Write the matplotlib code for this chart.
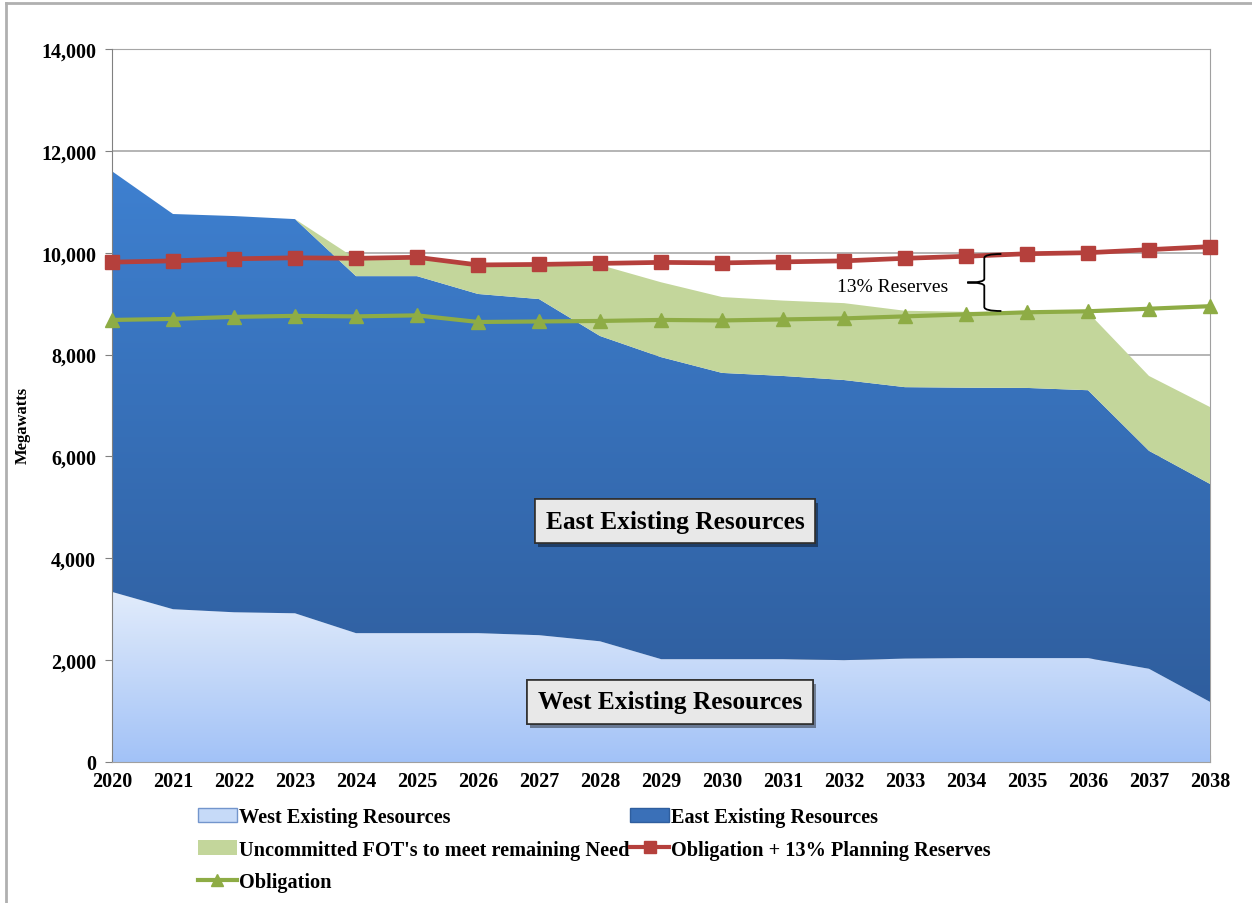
import numpy as np
import matplotlib
matplotlib.use('Agg')
import matplotlib.pyplot as plt
from matplotlib.colors import LinearSegmentedColormap
from matplotlib.path import Path
from matplotlib.patches import PathPatch, Patch
from matplotlib.lines import Line2D
import matplotlib.patheffects as pe

# Dados (MW)
anos = list(range(2020, 2039))
west = [3340, 3000, 2940, 2920, 2530, 2530, 2530, 2490, 2370, 2020,
        2020, 2020, 2000, 2030, 2040, 2040, 2040, 1830, 1180]
east = [8260, 7760, 7780, 7740, 7010, 7010, 6660, 6600, 5995, 5930,
        5620, 5560, 5500, 5330, 5310, 5305, 5260, 4280, 4280]
fot = [0, 0, 0, 0, 340, 360, 590, 690, 1395, 1470,
       1490, 1480, 1510, 1500, 1490, 1485, 1530, 1470, 1510]
obrig_reserva = [9815, 9840, 9880, 9900, 9890, 9910, 9760, 9770, 9790, 9810,
                 9800, 9820, 9840, 9890, 9930, 9980, 10000, 10060, 10120]
obrigacao = [8680, 8700, 8740, 8760, 8750, 8770, 8640, 8650, 8660, 8680,
             8670, 8690, 8710, 8750, 8790, 8830, 8850, 8900, 8950]

ticks_y = [0, 2000, 4000, 6000, 8000, 10000, 12000, 14000]

plt.rcParams['font.family'] = ['Liberation Serif', 'DejaVu Serif']
plt.rcParams['font.weight'] = 'bold'
plt.rcParams['axes.labelweight'] = 'bold'


def area_gradiente(ax, x, y0, y1, cor_topo, cor_base, ytopo, ybase):
    # area com preenchimento em degradê vertical (como no Excel)
    poly = ax.fill_between(x, y0, y1, facecolor='none', edgecolor='none')
    caminho = poly.get_paths()[0]
    patch = PathPatch(caminho, transform=ax.transData, facecolor='none', edgecolor='none')
    ax.add_patch(patch)
    cmap = LinearSegmentedColormap.from_list('grad', [cor_base, cor_topo])
    grad = np.linspace(0, 1, 256).reshape(-1, 1)
    im = ax.imshow(grad, cmap=cmap, aspect='auto', origin='lower',
                   extent=[x[0], x[-1], ybase, ytopo], zorder=1, interpolation='bilinear')
    im.set_clip_path(patch)


fig = plt.figure(figsize=(12.52, 9.04), dpi=100)
ax = fig.add_axes([112 / 1252, 1 - 763 / 904, 1098 / 1252, 713 / 904])

x = np.array(anos)
w = np.array(west)
e = np.array(east)
f = np.array(fot)
topo_azul = w + e

area_gradiente(ax, x, 0, w, '#e2ecfb', '#a2c2f7', w.max(), 0)
area_gradiente(ax, x, w, topo_azul, '#3e80d0', '#2f5e9e', topo_azul.max(), w.min())
ax.fill_between(x, topo_azul, topo_azul + f, facecolor='#c3d69b', edgecolor='none', zorder=1.5)

ax.plot(anos, obrigacao, color='#8eac45', lw=3, marker='^', ms=10, zorder=4, clip_on=False)
ax.plot(anos, obrig_reserva, color='#b5403c', lw=3.4, marker='s', ms=10.5, zorder=5, clip_on=False)

ax.set_xlim(2020, 2038)
ax.set_ylim(0, 14000)
ax.set_xticks(anos)
ax.set_yticks(ticks_y)
ax.yaxis.set_major_formatter(matplotlib.ticker.StrMethodFormatter('{x:,.0f}'))
ax.tick_params(axis='x', direction='in', length=5, color='#a0a0a0', pad=6.5, labelsize=14.5)
ax.tick_params(axis='y', direction='out', length=5, color='#808080', pad=6.5, labelsize=14.5)
ax.grid(axis='y', color='#a8a8a8', lw=1.2, zorder=0)
ax.set_axisbelow(True)
for lado in ['top', 'right']:
    ax.spines[lado].set_color('#a0a0a0')
    ax.spines[lado].set_zorder(0.5)
ax.spines['left'].set_color('#808080')
ax.spines['bottom'].set_color('#a0a0a0')
ax.spines['left'].set_zorder(3)
ax.spines['bottom'].set_zorder(3)
ax.set_ylabel('Megawatts', fontsize=12, fontweight='bold')
ax.yaxis.set_label_coords(-0.074, 0.474)

# caixas de rotulo
for txt, xc, yc in [('East Existing Resources', 2029.23, 4730),
                    ('West Existing Resources', 2029.15, 1180)]:
    t = ax.text(xc, yc, txt, ha='center', va='center', fontsize=18.3, zorder=6,
                bbox=dict(boxstyle='square,pad=0.42', facecolor='#e8e8e8',
                          edgecolor='#303030', lw=1.2))
    t.get_bbox_patch().set_path_effects([
        pe.withSimplePatchShadow(offset=(2, -3), shadow_rgbFace='k', alpha=0.4), pe.Normal()])

# chave "13% Reserves"
xm, xp, xa = 2034.30, 2034.02, 2034.58
ys, yi = 9975, 8855
ym = (ys + yi) / 2
verts = [(xa, ys), (xm, ys), (xm, ys - 80), (xm, ym + 70), (xm, ym), (xp, ym),
         (xm, ym), (xm, ym - 70), (xm, yi + 80), (xm, yi), (xa, yi)]
codes = [Path.MOVETO, Path.CURVE3, Path.CURVE3, Path.LINETO, Path.CURVE3, Path.CURVE3,
         Path.CURVE3, Path.CURVE3, Path.LINETO, Path.CURVE3, Path.CURVE3]
ax.add_patch(PathPatch(Path(verts, codes), facecolor='none', edgecolor='black', lw=1.3, zorder=6))
ax.text(2032.8, 9346, '13% Reserves', ha='center', va='center', fontsize=14,
        fontweight='normal', zorder=6)

# legenda
h_west = Patch(facecolor='#c6daf8', edgecolor='#7395cc', lw=1)
h_east = Patch(facecolor='#3a70b8', edgecolor='#2f5e9e', lw=1)
h_fot = Patch(facecolor='#c3d69b', edgecolor='none')
h_res = Line2D([], [], color='#b5403c', lw=3, marker='s', ms=8)
h_obr = Line2D([], [], color='#8eac45', lw=3, marker='^', ms=8)
fig.legend([h_west, h_fot, h_obr, h_east, h_res],
           ['West Existing Resources', "Uncommitted FOT's to meet remaining Need", 'Obligation',
            'East Existing Resources', 'Obligation + 13% Planning Reserves'],
           loc='upper left', bbox_to_anchor=(198 / 1252, 1 - 808 / 904), ncol=2,
           frameon=False, fontsize=14.6, handlelength=1.9, handletextpad=0.12,
           columnspacing=0.05, labelspacing=0.62, borderpad=0, borderaxespad=0)

# moldura externa
fig.add_artist(Line2D([6 / 1252, 6 / 1252], [0, 1 - 4 / 904], color='#b0b0b0', lw=2))
fig.add_artist(Line2D([6 / 1252, 1], [1 - 4 / 904, 1 - 4 / 904], color='#b0b0b0', lw=2))

fig.savefig('out.png', dpi=100)
